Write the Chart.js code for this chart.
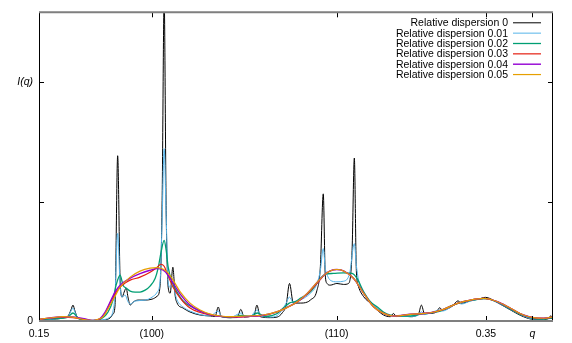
<!DOCTYPE html>
<html>
<head>
<meta charset="utf-8">
<script src="https://cdn.jsdelivr.net/npm/chart.js@4"></script>
<style>
  html, body { margin: 0; padding: 0; background: #fff; }
  #wrap { width: 572px; height: 343px; }
</style>
</head>
<body>
<div id="wrap"><canvas id="sq"></canvas></div>
<script>
// tick marks on q and I(q)
const xTickValues = [0.15, 0.2005, 0.2832, 0.35, 0.3708];
const xTickLabels = ['0.15', '(100)', '(110)', '0.35', 'q'];
const yTickValues = [0, 1, 2];
const yTickLabels = ['0', '', 'I(q)'];

const seriesLabels = ['Relative dispersion 0', 'Relative dispersion 0.01', 'Relative dispersion 0.02',
  'Relative dispersion 0.03', 'Relative dispersion 0.04', 'Relative dispersion 0.05'];
const seriesColors = ['#000000', '#56b4e9', '#009e73', '#e51e10', '#9400d3', '#e69f00'];
const seriesWidths = [1, 1, 1.3, 1.2, 1.4, 1.2];

// dispersion 0
const q0 = [0.1500, 0.1549, 0.1608, 0.1630, 0.1643, 0.1652, 0.1661, 0.1675, 0.1706, 0.1742, 0.1773, 0.1818,
  0.1831, 0.1840, 0.1852, 0.1863, 0.1872, 0.1881, 0.1890, 0.1899, 0.1908, 0.1921, 0.1943, 0.1975, 0.2006,
  0.2029, 0.2042, 0.2051, 0.2060, 0.2069, 0.2078, 0.2087, 0.2099, 0.2109, 0.2118, 0.2145, 0.2176, 0.2221,
  0.2266, 0.2288, 0.2302, 0.2315, 0.2356, 0.2387, 0.2403, 0.2418, 0.2445, 0.2463, 0.2475, 0.2490, 0.2535,
  0.2566, 0.2588, 0.2606, 0.2621, 0.2638, 0.2669, 0.2700, 0.2714, 0.2744, 0.2759, 0.2772, 0.2781, 0.2789,
  0.2803, 0.2833, 0.2863, 0.2885, 0.2901, 0.2911, 0.2920, 0.2930, 0.2953, 0.2983, 0.3013, 0.3042, 0.3072,
  0.3086, 0.3099, 0.3117, 0.3162, 0.3198, 0.3211, 0.3225, 0.3251, 0.3278, 0.3293, 0.3305, 0.3350, 0.3375,
  0.3390, 0.3431, 0.3466, 0.3498, 0.3552, 0.3610, 0.3668, 0.3713, 0.3758, 0.3780, 0.3789, 0.3802];
const i0 = [0.004, 0.013, 0.025, 0.042, 0.092, 0.133, 0.083, 0.021, 0.008, 0.0, 0.004, 0.025,
  0.058, 0.125, 1.383, 0.342, 0.200, 0.242, 0.275, 0.192, 0.133, 0.158, 0.175, 0.175, 0.183,
  0.208, 0.300, 1.008, 2.70, 0.925, 0.283, 0.233, 0.450, 0.217, 0.150, 0.108, 0.075, 0.050,
  0.042, 0.038, 0.117, 0.038, 0.028, 0.029, 0.097, 0.033, 0.038, 0.050, 0.133, 0.036, 0.028,
  0.033, 0.067, 0.133, 0.314, 0.150, 0.150, 0.158, 0.175, 0.258, 0.453, 1.064, 0.383, 0.314,
  0.300, 0.314, 0.306, 0.314, 0.592, 1.364, 0.425, 0.286, 0.203, 0.148, 0.092, 0.050, 0.036,
  0.063, 0.038, 0.042, 0.036, 0.058, 0.133, 0.063, 0.064, 0.075, 0.111, 0.092, 0.125, 0.169,
  0.148, 0.169, 0.183, 0.198, 0.153, 0.092, 0.036, 0.014, 0.014, 0.021, 0.042, 0.025];

// dispersion 0.01
const q1 = [0.1500, 0.1549, 0.1608, 0.1630, 0.1643, 0.1652, 0.1661, 0.1675, 0.1706, 0.1742, 0.1773, 0.1818,
  0.1831, 0.1840, 0.1852, 0.1863, 0.1872, 0.1885, 0.1899, 0.1908, 0.1930, 0.1975, 0.2006, 0.2029, 0.2042,
  0.2051, 0.2060, 0.2069, 0.2078, 0.2087, 0.2100, 0.2109, 0.2118, 0.2145, 0.2176, 0.2221, 0.2266, 0.2302,
  0.2315, 0.2356, 0.2405, 0.2418, 0.2445, 0.2477, 0.2490, 0.2535, 0.2566, 0.2588, 0.2606, 0.2620, 0.2638,
  0.2669, 0.2714, 0.2741, 0.2759, 0.2772, 0.2781, 0.2790, 0.2803, 0.2833, 0.2863, 0.2890, 0.2911, 0.2920,
  0.2930, 0.2953, 0.2983, 0.3013, 0.3042, 0.3072, 0.3117, 0.3162, 0.3198, 0.3211, 0.3225, 0.3251, 0.3292,
  0.3305, 0.3350, 0.3377, 0.3390, 0.3431, 0.3498, 0.3552, 0.3610, 0.3668, 0.3713, 0.3758, 0.3789, 0.3802];
const i1 = [0.004, 0.013, 0.025, 0.038, 0.083, 0.108, 0.075, 0.021, 0.008, 0.0, 0.008, 0.033,
  0.083, 0.217, 0.733, 0.300, 0.200, 0.217, 0.158, 0.142, 0.167, 0.175, 0.200, 0.242, 0.342,
  0.842, 1.442, 0.883, 0.325, 0.283, 0.325, 0.233, 0.175, 0.117, 0.083, 0.054, 0.042, 0.083,
  0.042, 0.029, 0.067, 0.033, 0.038, 0.092, 0.042, 0.033, 0.046, 0.092, 0.150, 0.200, 0.158,
  0.175, 0.231, 0.300, 0.425, 0.606, 0.442, 0.383, 0.342, 0.328, 0.333, 0.400, 0.647, 0.467,
  0.342, 0.231, 0.161, 0.108, 0.064, 0.044, 0.038, 0.038, 0.050, 0.078, 0.054, 0.067, 0.092,
  0.083, 0.125, 0.150, 0.142, 0.167, 0.188, 0.154, 0.096, 0.042, 0.017, 0.017, 0.029, 0.025];

// dispersion 0.02
const q2 = [0.1500, 0.1549, 0.1608, 0.1630, 0.1652, 0.1675, 0.1706, 0.1742, 0.1773, 0.1809, 0.1831, 0.1845,
  0.1863, 0.1876, 0.1890, 0.1908, 0.1930, 0.1952, 0.1975, 0.1997, 0.2020, 0.2033, 0.2046, 0.2060, 0.2069,
  0.2078, 0.2096, 0.2118, 0.2145, 0.2176, 0.2221, 0.2266, 0.2311, 0.2356, 0.2405, 0.2445, 0.2477, 0.2512,
  0.2566, 0.2588, 0.2620, 0.2647, 0.2669, 0.2714, 0.2759, 0.2781, 0.2817, 0.2862, 0.2901, 0.2923, 0.2953,
  0.2983, 0.3014, 0.3041, 0.3072, 0.3117, 0.3162, 0.3211, 0.3251, 0.3296, 0.3341, 0.3386, 0.3431, 0.3498,
  0.3552, 0.3610, 0.3668, 0.3713, 0.3758, 0.3802];
const i2 = [0.008, 0.017, 0.025, 0.033, 0.067, 0.025, 0.008, 0.004, 0.013, 0.075, 0.175, 0.300,
  0.383, 0.300, 0.275, 0.250, 0.242, 0.242, 0.258, 0.292, 0.358, 0.442, 0.575, 0.675, 0.592,
  0.450, 0.325, 0.242, 0.167, 0.125, 0.083, 0.054, 0.038, 0.029, 0.046, 0.038, 0.067, 0.038,
  0.063, 0.100, 0.150, 0.163, 0.189, 0.244, 0.356, 0.392, 0.398, 0.403, 0.398, 0.356, 0.244,
  0.161, 0.117, 0.075, 0.050, 0.042, 0.042, 0.058, 0.067, 0.083, 0.125, 0.154, 0.173, 0.188,
  0.158, 0.100, 0.046, 0.021, 0.017, 0.025];

// dispersion 0.03
const q3 = [0.1500, 0.1549, 0.1608, 0.1652, 0.1706, 0.1742, 0.1773, 0.1796, 0.1818, 0.1840, 0.1863, 0.1885,
  0.1908, 0.1952, 0.1997, 0.2029, 0.2045, 0.2060, 0.2073, 0.2100, 0.2132, 0.2176, 0.2221, 0.2266, 0.2311,
  0.2378, 0.2445, 0.2503, 0.2566, 0.2611, 0.2656, 0.2700, 0.2745, 0.2781, 0.2803, 0.2833, 0.2863, 0.2908,
  0.2953, 0.2997, 0.3042, 0.3086, 0.3162, 0.3251, 0.3310, 0.3372, 0.3431, 0.3489, 0.3552, 0.3610, 0.3668,
  0.3713, 0.3758, 0.3802];
const i3 = [0.013, 0.025, 0.033, 0.029, 0.013, 0.004, 0.017, 0.067, 0.150, 0.225, 0.283, 0.317,
  0.342, 0.367, 0.408, 0.450, 0.475, 0.458, 0.400, 0.283, 0.192, 0.108, 0.071, 0.050, 0.038,
  0.033, 0.038, 0.046, 0.075, 0.113, 0.158, 0.225, 0.317, 0.392, 0.419, 0.431, 0.419, 0.356,
  0.231, 0.119, 0.064, 0.042, 0.056, 0.069, 0.097, 0.148, 0.175, 0.189, 0.161, 0.106, 0.050,
  0.028, 0.023, 0.033];

// dispersion 0.04
const q4 = [0.1500, 0.1549, 0.1608, 0.1652, 0.1706, 0.1742, 0.1773, 0.1796, 0.1818, 0.1840, 0.1863, 0.1908,
  0.1952, 0.1997, 0.2029, 0.2056, 0.2078, 0.2100, 0.2132, 0.2176, 0.2221, 0.2266, 0.2311, 0.2378, 0.2445,
  0.2503, 0.2566, 0.2611, 0.2656, 0.2700, 0.2745, 0.2781, 0.2803, 0.2833, 0.2863, 0.2908, 0.2953, 0.2997,
  0.3042, 0.3086, 0.3162, 0.3251, 0.3310, 0.3372, 0.3431, 0.3489, 0.3552, 0.3610, 0.3668, 0.3713, 0.3758,
  0.3802];
const i4 = [0.013, 0.025, 0.036, 0.033, 0.017, 0.004, 0.021, 0.075, 0.158, 0.242, 0.300, 0.358,
  0.396, 0.425, 0.438, 0.425, 0.383, 0.317, 0.225, 0.133, 0.083, 0.054, 0.039, 0.036, 0.039,
  0.048, 0.078, 0.117, 0.161, 0.231, 0.325, 0.392, 0.419, 0.431, 0.419, 0.356, 0.231, 0.119,
  0.064, 0.042, 0.056, 0.069, 0.097, 0.148, 0.175, 0.189, 0.161, 0.106, 0.050, 0.028, 0.023,
  0.033];

// dispersion 0.05
const q5 = [0.1500, 0.1549, 0.1608, 0.1652, 0.1697, 0.1742, 0.1773, 0.1787, 0.1818, 0.1840, 0.1863, 0.1908,
  0.1952, 0.1997, 0.2029, 0.2056, 0.2078, 0.2100, 0.2132, 0.2176, 0.2221, 0.2266, 0.2311, 0.2356, 0.2432,
  0.2503, 0.2566, 0.2611, 0.2656, 0.2700, 0.2745, 0.2781, 0.2803, 0.2833, 0.2863, 0.2908, 0.2953, 0.2997,
  0.3042, 0.3086, 0.3162, 0.3251, 0.3310, 0.3372, 0.3431, 0.3489, 0.3552, 0.3610, 0.3668, 0.3713, 0.3758,
  0.3802];
const i5 = [0.014, 0.025, 0.036, 0.033, 0.014, 0.003, 0.021, 0.036, 0.133, 0.208, 0.283, 0.367,
  0.417, 0.442, 0.446, 0.433, 0.400, 0.342, 0.244, 0.150, 0.092, 0.058, 0.042, 0.036, 0.042,
  0.050, 0.078, 0.114, 0.161, 0.231, 0.325, 0.392, 0.419, 0.431, 0.419, 0.356, 0.231, 0.119,
  0.064, 0.042, 0.056, 0.069, 0.097, 0.148, 0.175, 0.189, 0.161, 0.106, 0.050, 0.028, 0.023,
  0.036];

const qs = [q0, q1, q2, q3, q4, q5];
const is = [i0, i1, i2, i3, i4, i5];

const FONT = '"Liberation Sans", Arial, Helvetica, sans-serif';

const datasets = seriesLabels.map((label, k) => ({
  label: label,
  data: qs[k].map((q, j) => ({ x: q, y: is[k][j] })),
  borderColor: seriesColors[k],
  borderWidth: seriesWidths[k],
  pointRadius: 0,
  fill: false,
  cubicInterpolationMode: 'monotone',
  order: seriesLabels.length - k
}));

// gnuplot style frame with inward, mirrored ticks
const frame = {
  id: 'frame',
  afterDatasetsDraw(chart) {
    const { ctx, chartArea: a, scales: { x, y } } = chart;
    ctx.save();
    ctx.strokeStyle = '#000';
    ctx.lineWidth = 1;
    ctx.beginPath();
    x.ticks.forEach(t => {
      const px = Math.round(x.getPixelForValue(t.value)) + 0.5;
      ctx.moveTo(px, a.bottom); ctx.lineTo(px, a.bottom - 5);
      ctx.moveTo(px, a.top); ctx.lineTo(px, a.top + 5);
    });
    y.ticks.forEach(t => {
      const py = Math.round(y.getPixelForValue(t.value)) + 0.5;
      ctx.moveTo(a.left, py); ctx.lineTo(a.left + 5, py);
      ctx.moveTo(a.right, py); ctx.lineTo(a.right - 5, py);
    });
    ctx.moveTo(a.left + 0.5, a.top); ctx.lineTo(a.left + 0.5, a.bottom);
    ctx.moveTo(a.right - 0.5, a.top); ctx.lineTo(a.right - 0.5, a.bottom);
    ctx.stroke();
    ctx.strokeStyle = '#7f7f7f';
    ctx.lineWidth = 2;
    ctx.beginPath();
    ctx.moveTo(a.left, a.top); ctx.lineTo(a.right, a.top);
    ctx.moveTo(a.left, a.bottom); ctx.lineTo(a.right, a.bottom);
    ctx.stroke();
    ctx.restore();
  }
};

// key in the top right corner, text left of the sample line
const key = {
  id: 'key',
  afterDraw(chart) {
    const { ctx, chartArea: a } = chart;
    ctx.save();
    ctx.font = '10.5px ' + FONT;
    ctx.textAlign = 'right';
    ctx.textBaseline = 'middle';
    chart.data.datasets.forEach((ds, k) => {
      const yy = a.top + 10.5 + k * 10.35;
      ctx.fillStyle = '#000';
      ctx.fillText(ds.label, a.right - 45, yy + 0.5);
      ctx.strokeStyle = ds.borderColor;
      ctx.lineWidth = ds.borderWidth;
      ctx.beginPath();
      ctx.moveTo(a.right - 40, yy);
      ctx.lineTo(a.right - 12, yy);
      ctx.stroke();
    });
    ctx.restore();
  }
};

const tickFont = c => ({
  family: FONT,
  size: 10.5,
  style: c.tick && (c.tick.label === 'q' || c.tick.label === 'I(q)') ? 'italic' : 'normal'
});

new Chart(document.getElementById('sq'), {
  type: 'line',
  data: { datasets: datasets },
  options: {
    responsive: true,
    maintainAspectRatio: false,
    animation: false,
    layout: { padding: { left: 0, top: 11, right: 19, bottom: 0 } },
    plugins: { legend: { display: false }, tooltip: { enabled: false } },
    scales: {
      x: {
        type: 'linear',
        min: 0.15,
        max: 0.38,
        grid: { display: false, drawTicks: false },
        border: { display: false },
        afterBuildTicks: s => { s.ticks = xTickValues.map(v => ({ value: v })); },
        afterFit: s => { s.height = 22; },
        ticks: {
          autoSkip: false,
          maxRotation: 0,
          padding: 7,
          color: '#000',
          font: tickFont,
          callback: (v, k) => xTickLabels[k]
        }
      },
      y: {
        type: 'linear',
        min: 0,
        max: 310 / 120,
        grid: { display: false, drawTicks: false },
        border: { display: false },
        afterBuildTicks: s => { s.ticks = yTickValues.map(v => ({ value: v })); },
        afterFit: s => { s.width = 39; },
        ticks: {
          autoSkip: false,
          padding: 6,
          color: '#000',
          font: tickFont,
          callback: (v, k) => yTickLabels[k]
        }
      }
    }
  },
  plugins: [frame, key]
});
</script>
</body>
</html>
